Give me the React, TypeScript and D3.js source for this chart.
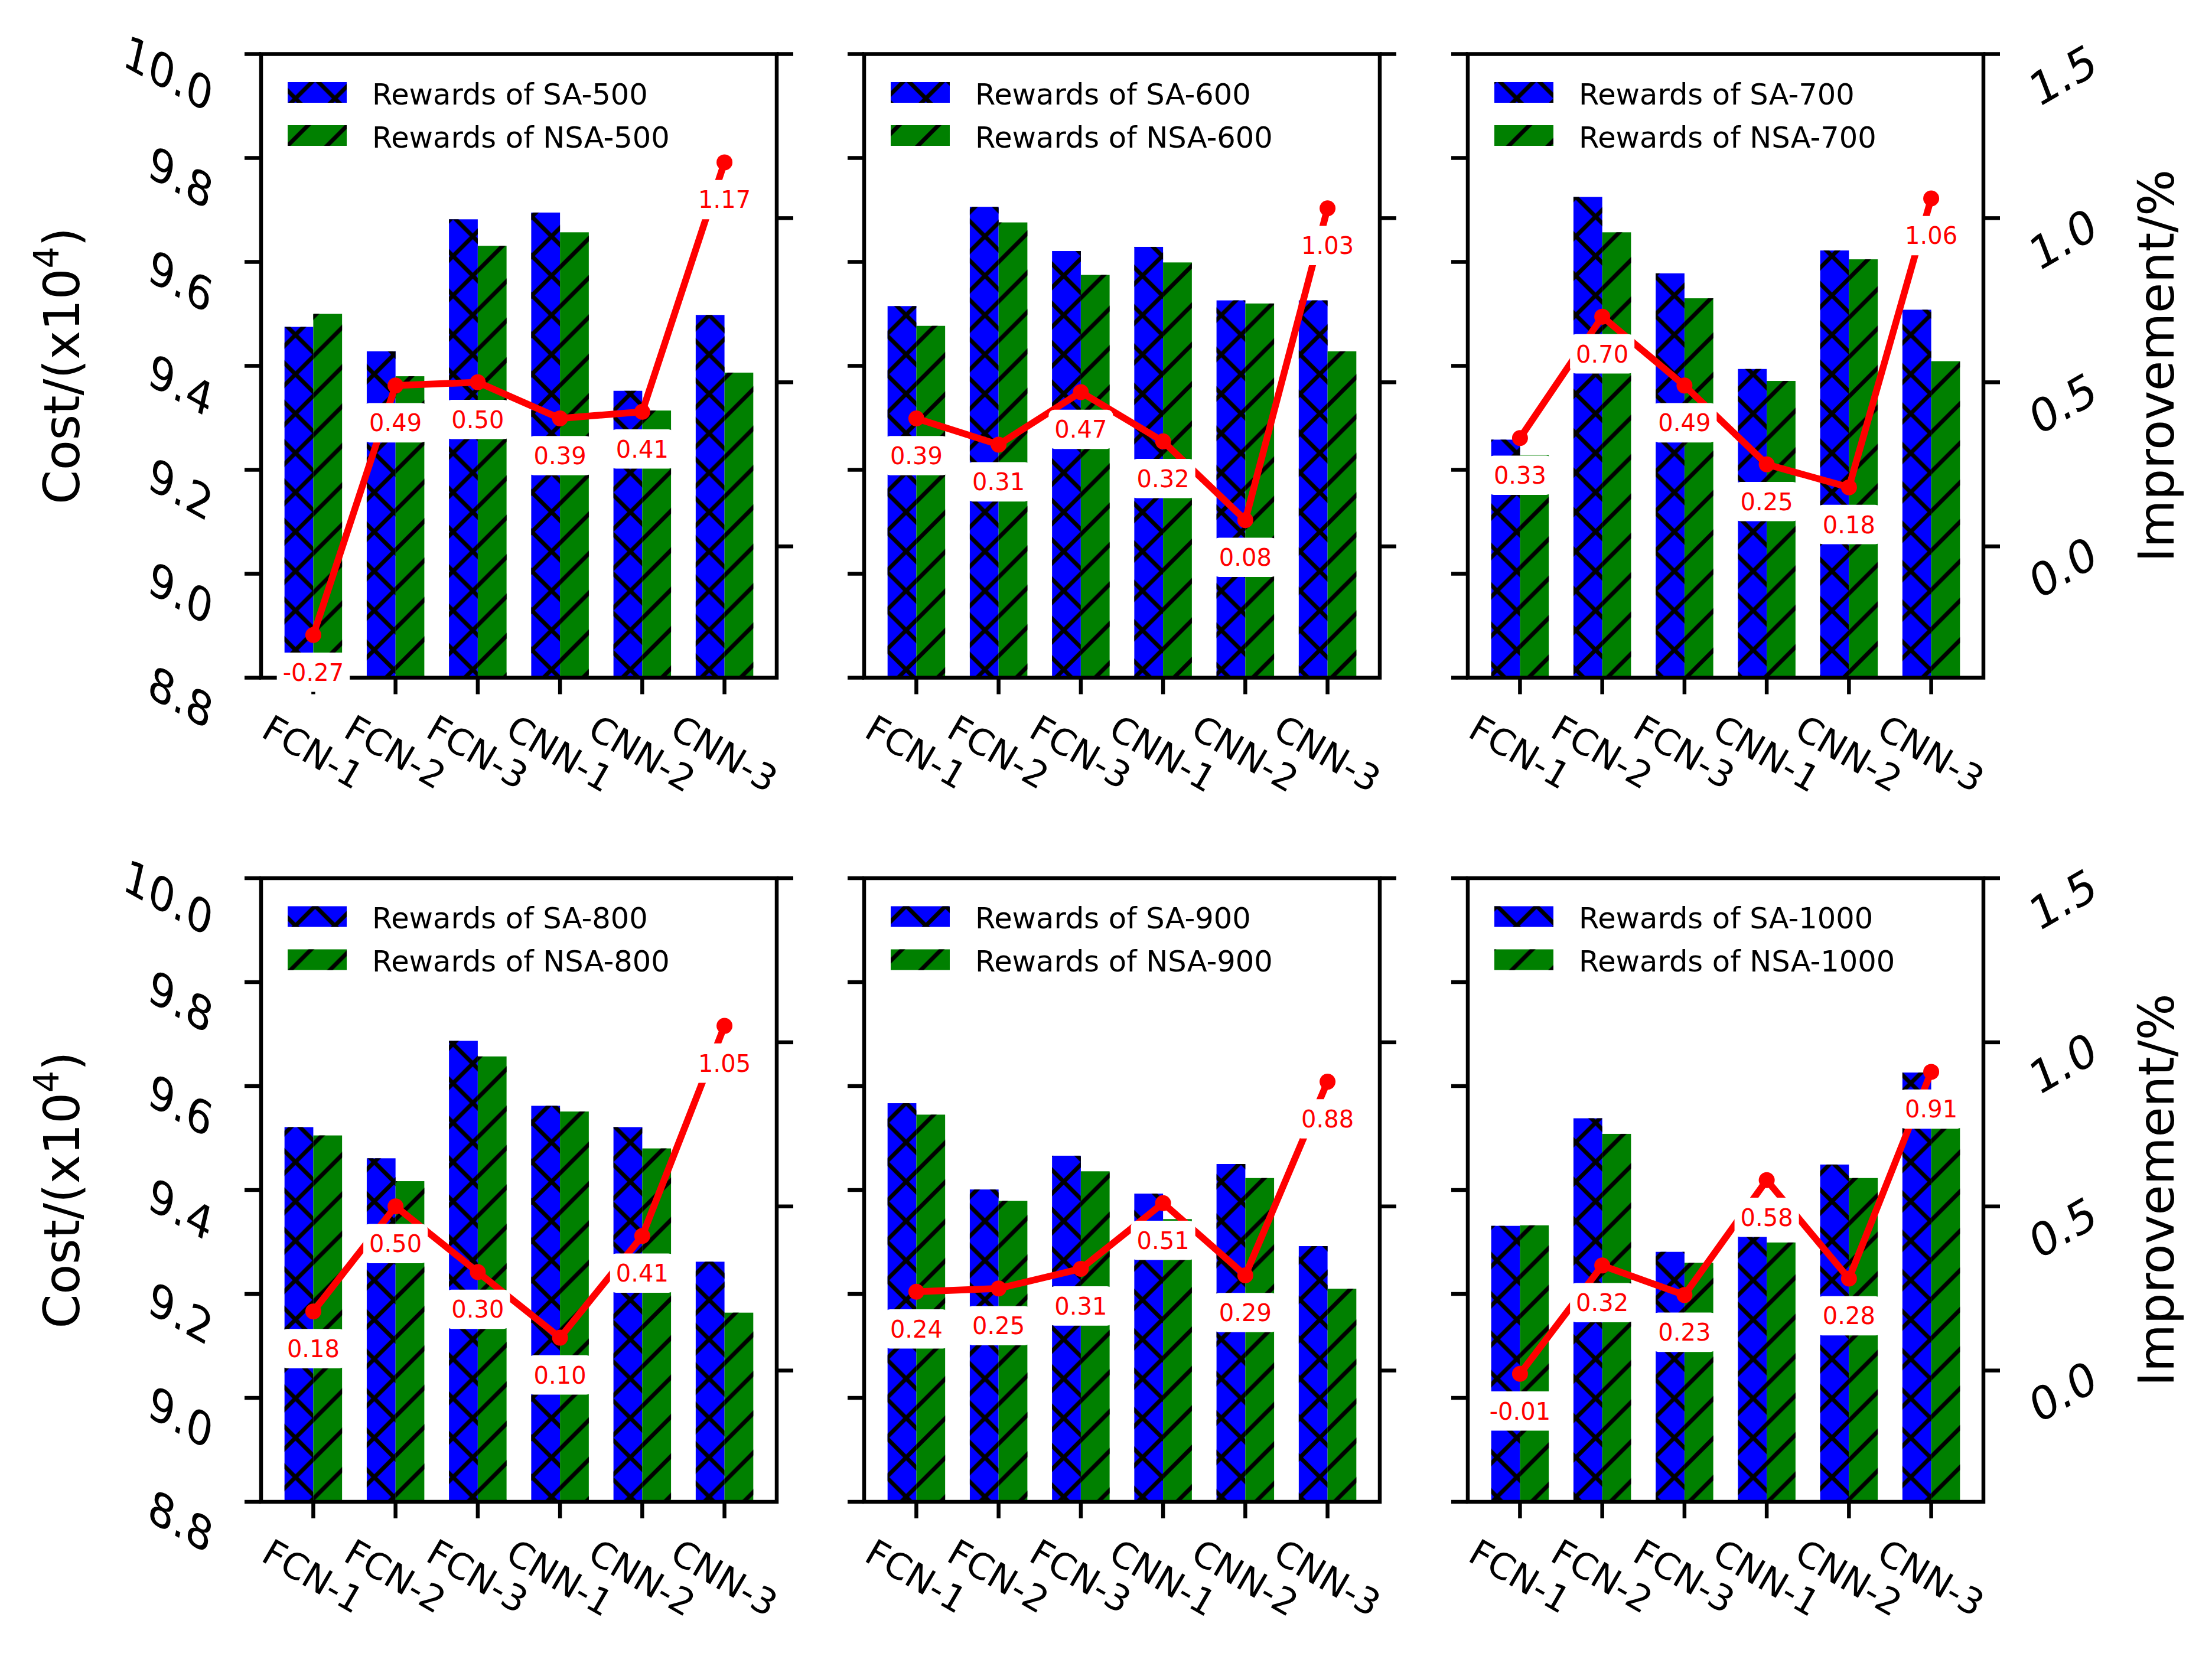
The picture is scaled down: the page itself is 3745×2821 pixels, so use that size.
import * as d3 from "d3";

// categories and series
const CATEGORIES = ["FCN-1", "FCN-2", "FCN-3", "CNN-1", "CNN-2", "CNN-3"];
const SIZES = [500, 600, 700, 800, 900, 1000];

const SA_500 = [9.475, 9.428, 9.682, 9.695, 9.352, 9.498];
const NSA_500 = [9.5, 9.38, 9.631, 9.657, 9.314, 9.387];
const IMP_500 = [-0.27, 0.49, 0.5, 0.39, 0.41, 1.17];

const SA_600 = [9.515, 9.706, 9.621, 9.629, 9.526, 9.526];
const NSA_600 = [9.477, 9.676, 9.575, 9.599, 9.52, 9.428];
const IMP_600 = [0.39, 0.31, 0.47, 0.32, 0.08, 1.03];

const SA_700 = [9.258, 9.725, 9.578, 9.394, 9.622, 9.508];
const NSA_700 = [9.228, 9.657, 9.53, 9.371, 9.605, 9.409];
const IMP_700 = [0.33, 0.7, 0.49, 0.25, 0.18, 1.06];

const SA_800 = [9.521, 9.461, 9.687, 9.562, 9.521, 9.262];
const NSA_800 = [9.505, 9.417, 9.657, 9.551, 9.48, 9.164];
const IMP_800 = [0.18, 0.5, 0.3, 0.1, 0.41, 1.05];

const SA_900 = [9.567, 9.401, 9.466, 9.393, 9.45, 9.292];
const NSA_900 = [9.545, 9.379, 9.436, 9.344, 9.423, 9.21];
const IMP_900 = [0.24, 0.25, 0.31, 0.51, 0.29, 0.88];

const SA_1000 = [9.331, 9.538, 9.281, 9.353, 9.449, 9.626];
const NSA_1000 = [9.332, 9.508, 9.26, 9.299, 9.423, 9.538];
const IMP_1000 = [-0.01, 0.32, 0.23, 0.58, 0.28, 0.91];

const SA = [SA_500, SA_600, SA_700, SA_800, SA_900, SA_1000];
const NSA = [NSA_500, NSA_600, NSA_700, NSA_800, NSA_900, NSA_1000];
const IMP = [IMP_500, IMP_600, IMP_700, IMP_800, IMP_900, IMP_1000];

const COST_TICKS = [8.8, 9.0, 9.2, 9.4, 9.6, 9.8, 10.0];
const IMP_TICKS = [0, 0.5, 1.0, 1.5];

const WIDTH = 3745;
const HEIGHT = 2821;
const COL_LEFT = [442, 1463, 2485];
const ROW_TOP = [91.5, 1487];
const PW = 873;
const PH = 1056;
const BAR_W = 0.35;
const LW = 6.5;
const HATCH_LW = 7;
const TICK = 28;
const HATCH = 66.7;
const FONT = "DejaVu Sans";

const BLUE = "#0000ff";
const GREEN = "#008000";
const RED = "#ff0000";

// rough DejaVu Sans advance widths (em)
const CW: Record<string, number> = {
    "0": 0.636, "1": 0.636, "2": 0.636, "3": 0.636, "4": 0.636, "5": 0.636,
    "6": 0.636, "7": 0.636, "8": 0.636, "9": 0.636, ".": 0.318, "-": 0.361,
    F: 0.575, C: 0.698, N: 0.748,
};
const textWidth = (s: string, fs: number) =>
    s.split("").reduce((acc, c) => acc + (CW[c] ?? 0.6), 0) * fs;

type PanelProps = {
    col: number;
    row: number;
    sa: number[];
    nsa: number[];
    imp: number[];
    size: number;
};

const Panel = ({ col, row, sa, nsa, imp, size }: PanelProps) => {
    const left = COL_LEFT[col];
    const top = ROW_TOP[row];
    const right = left + PW;
    const bottom = top + PH;

    const x = d3.scaleLinear().domain([-0.635, 5.635]).range([left, right]);
    const y = d3.scaleLinear().domain([8.8, 10.0]).range([bottom, top]);
    const y2 = d3.scaleLinear().domain([-0.4, 1.5]).range([bottom, top]);
    const bw = x(BAR_W) - x(0);

    const linePath = d3
        .line<number>()
        .x((_, i) => x(i))
        .y((d) => y2(d))(imp);

    const bars = CATEGORIES.map((_, i) => (
        <g key={i}>
            <rect x={x(i - BAR_W)} width={bw} y={y(sa[i])} height={bottom - y(sa[i])} fill={BLUE} />
            <rect x={x(i - BAR_W)} width={bw} y={y(sa[i])} height={bottom - y(sa[i])} fill="url(#hatch-x)" />
            <rect x={x(i)} width={bw} y={y(nsa[i])} height={bottom - y(nsa[i])} fill={GREEN} />
            <rect x={x(i)} width={bw} y={y(nsa[i])} height={bottom - y(nsa[i])} fill="url(#hatch-s)" />
        </g>
    ));

    const labelFs = 40;
    const pad = 10;
    const labels = imp.map((v, i) => {
        const txt = v.toFixed(2);
        const w = textWidth(txt, labelFs) + 2 * pad;
        const h = labelFs * 1.164 + 2 * pad;
        const cx = x(i);
        const cy = y2(v) + 63;
        return (
            <g key={i}>
                <rect x={cx - w / 2} y={cy - h / 2} width={w} height={h} rx={pad} ry={pad} fill="#fff" />
                <text x={cx} y={cy + 0.36 * labelFs} fontSize={labelFs} fill={RED} textAnchor="middle">
                    {txt}
                </text>
            </g>
        );
    });

    const xFs = 61;
    const xLabels = CATEGORIES.map((c, i) => {
        const L = textWidth(c, xFs);
        const h = L * 0.5 + 0.729 * xFs * 0.866;
        const cy = bottom + 60 + h / 2;
        return (
            <text
                key={c}
                fontSize={xFs}
                textAnchor="middle"
                y={0.365 * xFs}
                transform={`translate(${x(i)},${cy}) rotate(30)`}
            >
                {c}
            </text>
        );
    });

    const yFs = 76;
    const leftLabels =
        col === 0
            ? COST_TICKS.map((t) => {
                  const s = t.toFixed(1);
                  const w = 0.875 * textWidth(s, yFs) + 26;
                  const cx = left - 70 - w / 2;
                  const cy = y(t) + 32;
                  return (
                      <text
                          key={s}
                          fontSize={yFs}
                          textAnchor="middle"
                          y={0.365 * yFs}
                          transform={`translate(${cx},${cy}) matrix(0.875,0.485,-0.225,0.974,0,0)`}
                      >
                          {s}
                      </text>
                  );
              })
            : null;

    const rightLabels =
        col === 2
            ? IMP_TICKS.map((t) => {
                  const s = t.toFixed(1);
                  const w = 0.866 * textWidth(s, yFs) + 24;
                  const cx = right + 70 + w / 2;
                  const cy = y2(t) + 35;
                  return (
                      <text
                          key={s}
                          fontSize={yFs}
                          textAnchor="middle"
                          y={0.365 * yFs}
                          transform={`translate(${cx},${cy}) matrix(0.866,-0.5,0.358,0.934,0,0)`}
                      >
                          {s}
                      </text>
                  );
              })
            : null;

    const midY = (top + bottom) / 2;
    const axisFs = 83;

    return (
        <g>
            {bars}

            {/* legend */}
            <rect x={left + 45} y={top + 47.5} width={100} height={35} fill={BLUE} />
            <rect x={left + 45} y={top + 47.5} width={100} height={35} fill="url(#hatch-x)" />
            <rect x={left + 45} y={top + 120.5} width={100} height={35} fill={GREEN} />
            <rect x={left + 45} y={top + 120.5} width={100} height={35} fill="url(#hatch-s)" />
            <text x={left + 188} y={top + 65 + 20} fontSize={49.5}>
                {`Rewards of SA-${size}`}
            </text>
            <text x={left + 188} y={top + 138 + 20} fontSize={49.5}>
                {`Rewards of NSA-${size}`}
            </text>

            {/* spines and ticks */}
            <rect x={left} y={top} width={PW} height={PH} fill="none" stroke="#000" strokeWidth={LW} />
            {COST_TICKS.map((t) => (
                <line key={`l${t}`} x1={left - TICK} x2={left} y1={y(t)} y2={y(t)} stroke="#000" strokeWidth={LW} />
            ))}
            {IMP_TICKS.map((t) => (
                <line key={`r${t}`} x1={right} x2={right + TICK} y1={y2(t)} y2={y2(t)} stroke="#000" strokeWidth={LW} />
            ))}
            {CATEGORIES.map((c, i) => (
                <line key={`b${c}`} x1={x(i)} x2={x(i)} y1={bottom} y2={bottom + TICK} stroke="#000" strokeWidth={LW} />
            ))}

            {/* improvement line */}
            <path d={linePath ?? ""} fill="none" stroke={RED} strokeWidth={11.5} strokeLinejoin="round" />
            {imp.map((v, i) => (
                <circle key={i} cx={x(i)} cy={y2(v)} r={13.5} fill={RED} />
            ))}
            {labels}

            {xLabels}
            {leftLabels}
            {rightLabels}

            {col === 0 && (
                <text fontSize={axisFs} textAnchor="middle" transform={`translate(134,${midY}) rotate(-90)`}>
                    Cost/(x10
                    <tspan fontSize={axisFs * 0.7} dy={-axisFs * 0.42}>
                        4
                    </tspan>
                    <tspan dy={axisFs * 0.42}>)</tspan>
                </text>
            )}
            {col === 2 && (
                <text fontSize={axisFs} textAnchor="middle" transform={`translate(3680,${midY}) rotate(-90)`}>
                    Improvement/%
                </text>
            )}
        </g>
    );
};

export default function App() {
    const s = HATCH;
    const slash = `M${-s / 2},${s / 2} L${s / 2},${-s / 2} M0,${s} L${s},0 M${s / 2},${s * 1.5} L${s * 1.5},${s / 2}`;
    const back = `M${-s / 2},${s / 2} L${s / 2},${s * 1.5} M0,0 L${s},${s} M${s / 2},${-s / 2} L${s * 1.5},${s / 2}`;

    return (
        <svg
            width={WIDTH}
            height={HEIGHT}
            style={{ position: "absolute", left: 0, top: 0, display: "block" }}
            fontFamily={FONT}
        >
            <defs>
                <pattern id="hatch-s" patternUnits="userSpaceOnUse" width={s} height={s}>
                    <path d={slash} stroke="#000" strokeWidth={HATCH_LW} fill="none" />
                </pattern>
                <pattern id="hatch-x" patternUnits="userSpaceOnUse" width={s} height={s}>
                    <path d={slash} stroke="#000" strokeWidth={HATCH_LW} fill="none" />
                    <path d={back} stroke="#000" strokeWidth={HATCH_LW} fill="none" />
                </pattern>
            </defs>
            <rect width={WIDTH} height={HEIGHT} fill="#fff" />
            {SIZES.map((size, k) => (
                <Panel
                    key={size}
                    col={k % 3}
                    row={Math.floor(k / 3)}
                    sa={SA[k]}
                    nsa={NSA[k]}
                    imp={IMP[k]}
                    size={size}
                />
            ))}
        </svg>
    );
}
